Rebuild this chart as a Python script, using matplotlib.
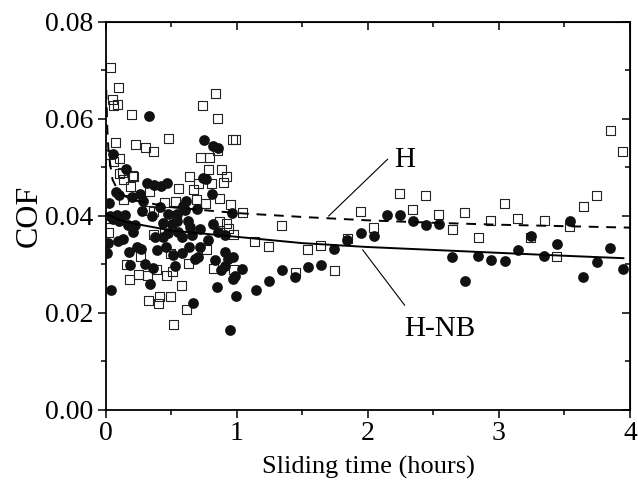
import matplotlib
matplotlib.use("Agg")
import matplotlib.pyplot as plt
from matplotlib.ticker import MultipleLocator, FormatStrFormatter

plt.rcParams['font.family'] = ['Liberation Serif', 'DejaVu Serif']

# H (open squares)
h_x = [0.038, 0.099, 0.048, 0.086, 0.056, 0.198, 0.837, 0.735, 0.855, 0.476,
       0.967, 0.99, 0.074, 0.227, 0.305, 0.361, 0.01, 0.107, 0.718, 0.794,
       0.85, 0.786, 0.883, 0.921, 0.896, 0.641, 0.806, 0.705, 0.557, 0.667,
       0.209, 0.132, 0.107, 0.188, 0.336, 0.061, 0.870, 0.947, 0.45, 0.527,
       0.692, 0.756, 0.132, 1.045, 0.125, 0.203, 0.361, 0.445, 0.336, 0.539,
       0.361, 0.768, 1.137, 0.972, 0.934, 0.921, 0.870, 0.819, 0.972, 0.628,
       0.489, 0.26, 0.158, 0.247, 0.318, 0.178, 0.382, 0.463, 0.509, 0.578,
       0.328, 0.399, 0.407, 0.489, 0.616, 0.514, 0.01, 0.02,
       1.34, 1.244, 1.539, 1.638, 1.443, 1.743, 1.944, 2.046, 2.244, 2.34,
       2.443, 1.84, 2.542, 2.644, 2.74, 2.842, 2.939, 3.046, 3.143, 3.244,
       3.344, 3.44, 3.542, 3.644, 3.746, 3.85, 3.944]
h_y = [0.0707, 0.0664, 0.0641, 0.0630, 0.0627, 0.0609, 0.0652, 0.0627, 0.0601, 0.0560,
       0.0558, 0.0558, 0.0551, 0.0548, 0.0541, 0.0534, 0.0526, 0.0519, 0.0521, 0.0521,
       0.0536, 0.0496, 0.0495, 0.0481, 0.0469, 0.0481, 0.0468, 0.0468, 0.0457, 0.0454,
       0.0481, 0.0476, 0.0488, 0.0461, 0.0450, 0.0513, 0.0436, 0.0424, 0.0428, 0.0430,
       0.0433, 0.0426, 0.0433, 0.0407, 0.0490, 0.0484, 0.0409, 0.0375, 0.0412, 0.0402,
       0.0361, 0.0330, 0.0348, 0.0361, 0.0374, 0.0385, 0.0389, 0.0292, 0.0289, 0.0302,
       0.0323, 0.0317, 0.0299, 0.0280, 0.0278, 0.0270, 0.0289, 0.0278, 0.0285, 0.0257,
       0.0226, 0.0219, 0.0233, 0.0233, 0.0208, 0.0177, 0.0395, 0.0365,
       0.0381, 0.0337, 0.0331, 0.0340, 0.0284, 0.0288, 0.0409, 0.0377, 0.0447, 0.0414,
       0.0443, 0.0354, 0.0404, 0.0373, 0.0407, 0.0356, 0.0391, 0.0425, 0.0394, 0.0356,
       0.0391, 0.0317, 0.0378, 0.0420, 0.0443, 0.0577, 0.0533]

# H-NB (filled circles)
hnb_x = [0.328, 0.748, 0.819, 0.857, 0.056, 0.153, 0.737, 0.763, 0.31, 0.366,
         0.417, 0.463, 0.076, 0.102, 0.806, 0.26, 0.20, 0.285, 0.025, 0.61,
         0.59, 0.959, 0.41, 0.476, 0.54, 0.692, 0.272, 0.348, 0.081, 0.145,
         0.056, 0.603, 0.17, 0.221, 0.208, 0.437, 0.501, 0.539, 0.628, 0.641,
         0.718, 0.819, 0.476, 0.552, 0.578, 0.653, 0.374, 0.437, 0.781, 0.857,
         0.908, 0.018, 0.094, 0.132, 0.005, 0.234, 0.265, 0.178, 0.387, 0.458,
         0.514, 0.578, 0.636, 0.718, 0.908, 0.934, 0.972, 0.832, 0.679, 0.70,
         0.183, 0.298, 0.361, 0.527, 0.875, 0.908, 1.04, 0.967, 0.985, 0.336,
         0.036, 0.845, 0.992, 1.143, 0.667, 0.947, 0.03, 0.10,
         1.244, 1.34, 1.443, 1.539, 1.638, 1.743, 1.842, 1.944, 2.046, 2.142,
         2.244, 2.34, 2.443, 2.542, 2.644, 2.74, 2.842, 2.939, 3.046, 3.143,
         3.244, 3.344, 3.44, 3.542, 3.644, 3.746, 3.847, 3.944]
hnb_y = [0.0607, 0.0556, 0.0544, 0.0541, 0.0527, 0.0497, 0.0478, 0.0476, 0.0469, 0.0464,
         0.0461, 0.0468, 0.0450, 0.0443, 0.0445, 0.0445, 0.0440, 0.0430, 0.0426, 0.0430,
         0.0420, 0.0407, 0.0418, 0.0405, 0.0405, 0.0414, 0.0410, 0.0400, 0.0402, 0.0402,
         0.0393, 0.0412, 0.0381, 0.0381, 0.0366, 0.0385, 0.0384, 0.0389, 0.0389, 0.0378,
         0.0374, 0.0384, 0.0364, 0.0368, 0.0357, 0.0361, 0.0357, 0.0357, 0.0351, 0.0366,
         0.0361, 0.0345, 0.0348, 0.0353, 0.0323, 0.0337, 0.0331, 0.0326, 0.0330, 0.0337,
         0.0320, 0.0323, 0.0337, 0.0337, 0.0326, 0.0311, 0.0315, 0.0309, 0.0311, 0.0316,
         0.0298, 0.0301, 0.0292, 0.0297, 0.0288, 0.0297, 0.0291, 0.0270, 0.0276, 0.0260,
         0.0247, 0.0253, 0.0236, 0.0247, 0.0220, 0.0164, 0.0400, 0.0390,
         0.0265, 0.0289, 0.0274, 0.0295, 0.0298, 0.0332, 0.0351, 0.0364, 0.0358, 0.0402,
         0.0402, 0.0389, 0.0381, 0.0384, 0.0315, 0.0266, 0.0317, 0.0309, 0.0307, 0.0330,
         0.0358, 0.0318, 0.0342, 0.0389, 0.0275, 0.0305, 0.0333, 0.0291]

# trend lines
h_fit_x = [0.002, 0.01, 0.02, 0.05, 0.1, 0.2, 0.5, 1.0, 1.5, 2.0, 2.5, 3.0, 3.5, 4.0]
h_fit_y = [0.066, 0.058, 0.053, 0.0475, 0.0448, 0.0433, 0.0418, 0.0406, 0.0398, 0.0391,
           0.0386, 0.0382, 0.0379, 0.0376]
hnb_fit_x = [0.0, 0.1, 0.2, 0.5, 1.0, 1.5, 2.0, 2.5, 3.0, 3.5, 3.95]
hnb_fit_y = [0.0405, 0.0392, 0.0385, 0.0370, 0.0357, 0.0344, 0.0336, 0.0330, 0.0324,
             0.0318, 0.0313]

fig = plt.figure(figsize=(6.38, 4.91), dpi=100)
ax = fig.add_axes([0.1661, 0.1650, 0.8213, 0.7902])

ax.scatter(h_x, h_y, marker='s', s=42, facecolors='none', edgecolors='#222222',
           linewidths=0.8, zorder=2)
ax.scatter(hnb_x, hnb_y, marker='o', s=60, color='#111111', linewidths=0, zorder=3)
ax.plot(h_fit_x, h_fit_y, color='black', lw=1.4, dashes=(5, 4), zorder=4)
ax.plot(hnb_fit_x, hnb_fit_y, color='black', lw=1.4, zorder=4)

# labels with leader lines
ax.plot([1.70, 2.15], [0.0400, 0.0517], color='black', lw=0.8)
ax.text(2.28, 0.0515, 'H', fontsize=21, ha='center', va='center')
ax.plot([1.96, 2.28], [0.0330, 0.0216], color='black', lw=0.8)
ax.text(2.55, 0.0168, 'H-NB', fontsize=21, ha='center', va='center')

ax.set_xlim(0, 4)
ax.set_ylim(0, 0.08)
ax.xaxis.set_major_locator(MultipleLocator(1))
ax.xaxis.set_minor_locator(MultipleLocator(0.5))
ax.yaxis.set_major_locator(MultipleLocator(0.02))
ax.yaxis.set_minor_locator(MultipleLocator(0.01))
ax.yaxis.set_major_formatter(FormatStrFormatter('%.2f'))

ax.tick_params(which='both', direction='out', top=False, right=False,
               labelsize=20, width=1.1)
ax.tick_params(which='major', length=6)
ax.tick_params(which='minor', length=3.5)
ax.tick_params(axis='y', pad=3)
ax.tick_params(axis='x', pad=2)
for s in ax.spines.values():
    s.set_linewidth(1.3)

# inward ticks on top and right
ax2 = ax.secondary_xaxis('top')
ax2.xaxis.set_major_locator(MultipleLocator(1))
ax2.xaxis.set_minor_locator(MultipleLocator(0.5))
ax2.tick_params(which='both', direction='in', labeltop=False, width=1.1)
ax2.tick_params(which='major', length=6)
ax2.tick_params(which='minor', length=3.5)
ay2 = ax.secondary_yaxis('right')
ay2.yaxis.set_major_locator(MultipleLocator(0.02))
ay2.yaxis.set_minor_locator(MultipleLocator(0.01))
ay2.tick_params(which='both', direction='in', labelright=False, width=1.1)
ay2.tick_params(which='major', length=6)
ay2.tick_params(which='minor', length=3.5)

ax.set_xlabel('Sliding time (hours)', fontsize=19, labelpad=7)
ax.set_ylabel('COF', fontsize=23, labelpad=1)

fig.savefig('out.png', dpi=100)
